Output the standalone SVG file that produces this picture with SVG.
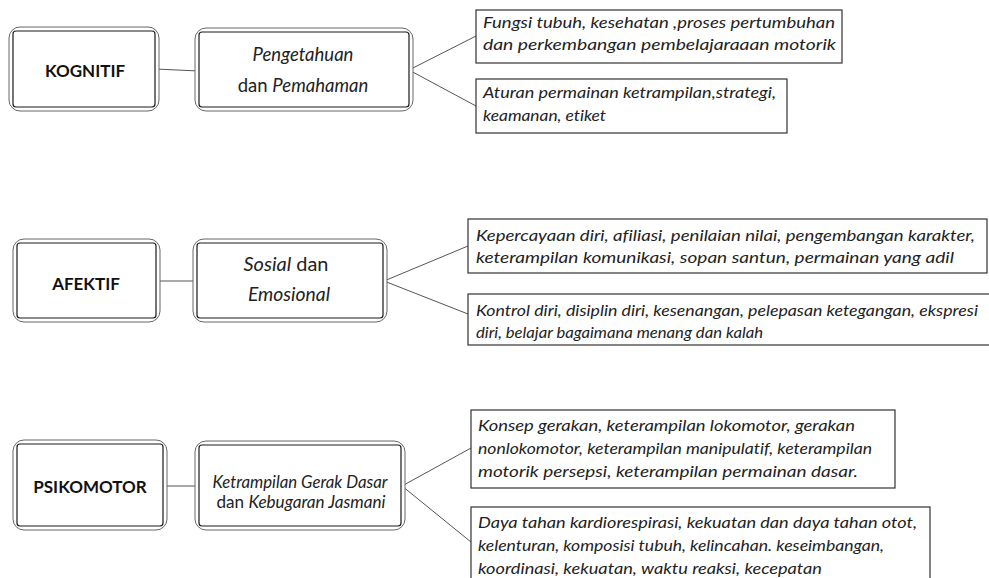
<svg xmlns="http://www.w3.org/2000/svg" width="989" height="578" viewBox="0 0 989 578">
  <style>
    text { font-variant-ligatures: none; }
    .outer { fill: #ffffff; stroke: #666666; stroke-width: 1; }
    .inner { fill: none; stroke: #1a1a1a; stroke-width: 1.2; }
    .leaf { fill: #ffffff; stroke: #333333; stroke-width: 1.2; }
    .link { fill: none; stroke: #555555; stroke-width: 1; }
    .head { font-family: Lato, "Open Sans", "Liberation Sans", sans-serif; font-weight: bold; font-size: 17px; fill: #111111; text-anchor: middle; }
    .mid { font-family: Lato, "Open Sans", "Liberation Sans", sans-serif; font-size: 18.5px; fill: #222222; text-anchor: middle; }
    .mid-s { font-family: Lato, "Open Sans", "Liberation Sans", sans-serif; font-size: 16.5px; fill: #222222; text-anchor: middle; }
    .it { font-style: italic; }
    .desc { font-family: Lato, "Open Sans", "Liberation Sans", sans-serif; font-style: italic; font-size: 15px; fill: #222222; }
  </style>
  <rect width="989" height="578" fill="#ffffff"/>

  <!-- connectors -->
  <g id="connectors">
    <line class="link" x1="155" y1="69" x2="199" y2="71"/>
    <line class="link" x1="409" y1="70" x2="476" y2="36"/>
    <line class="link" x1="409" y1="70" x2="476" y2="106"/>

    <line class="link" x1="156" y1="281" x2="197" y2="281"/>
    <line class="link" x1="384" y1="281" x2="468" y2="246"/>
    <line class="link" x1="384" y1="281" x2="468" y2="314"/>

    <line class="link" x1="163" y1="486" x2="199" y2="486"/>
    <line class="link" x1="402" y1="486" x2="471" y2="448"/>
    <line class="link" x1="402" y1="486" x2="471" y2="542"/>
  </g>

  <!-- cognitive domain -->
  <g id="kognitif">
    <rect class="outer" x="9" y="27" width="150" height="84" rx="11"/>
    <rect class="inner" x="13" y="31" width="142" height="76" rx="3"/>
    <text class="head" x="85" y="77">KOGNITIF</text>
  </g>
  <g id="pengetahuan">
    <rect class="outer" x="195" y="28" width="218" height="83" rx="11"/>
    <rect class="inner" x="199" y="32" width="210" height="75" rx="3"/>
    <text class="mid it" x="303" y="61">Pengetahuan</text>
    <text class="mid" x="303" y="92">dan <tspan class="it">Pemahaman</tspan></text>
  </g>
  <g id="fungsi">
    <rect class="leaf" x="476" y="10" width="366" height="53"/>
    <text class="desc" x="483" y="28" textLength="352" lengthAdjust="spacingAndGlyphs">Fungsi tubuh, kesehatan ,proses pertumbuhan</text>
    <text class="desc" x="483" y="50" textLength="353" lengthAdjust="spacingAndGlyphs">dan perkembangan pembelajaraaan motorik</text>
  </g>
  <g id="aturan">
    <rect class="leaf" x="476" y="79" width="311" height="54"/>
    <text class="desc" x="483" y="98" textLength="293" lengthAdjust="spacingAndGlyphs">Aturan permainan ketrampilan,strategi,</text>
    <text class="desc" x="483" y="121" textLength="123" lengthAdjust="spacingAndGlyphs">keamanan, etiket</text>
  </g>

  <!-- affective domain -->
  <g id="afektif">
    <rect class="outer" x="13" y="239" width="147" height="83" rx="11"/>
    <rect class="inner" x="17" y="243" width="139" height="75" rx="3"/>
    <text class="head" x="86" y="290">AFEKTIF</text>
  </g>
  <g id="sosial">
    <rect class="outer" x="193" y="239" width="194" height="83" rx="11"/>
    <rect class="inner" x="197" y="243" width="186" height="75" rx="3"/>
    <text class="mid" x="286" y="271" textLength="85" lengthAdjust="spacingAndGlyphs"><tspan class="it">Sosial</tspan> dan</text>
    <text class="mid it" x="289" y="301" textLength="82" lengthAdjust="spacingAndGlyphs">Emosional</text>
  </g>
  <g id="kepercayaan">
    <rect class="leaf" x="468" y="219" width="519" height="54"/>
    <text class="desc" x="476" y="241" textLength="499" lengthAdjust="spacingAndGlyphs">Kepercayaan diri, afiliasi, penilaian nilai, pengembangan karakter,</text>
    <text class="desc" x="476" y="263" textLength="478" lengthAdjust="spacingAndGlyphs">keterampilan komunikasi, sopan santun, permainan yang adil</text>
  </g>
  <g id="kontrol">
    <rect class="leaf" x="468" y="294" width="530" height="51"/>
    <text class="desc" x="476" y="316" textLength="502" lengthAdjust="spacingAndGlyphs">Kontrol diri, disiplin diri, kesenangan, pelepasan ketegangan, ekspresi</text>
    <text class="desc" x="476" y="338" textLength="287" lengthAdjust="spacingAndGlyphs">diri, belajar bagaimana menang dan kalah</text>
  </g>

  <!-- psychomotor domain -->
  <g id="psikomotor">
    <rect class="outer" x="13" y="440" width="154" height="90" rx="11"/>
    <rect class="inner" x="17" y="444" width="146" height="82" rx="3"/>
    <text class="head" x="90" y="493">PSIKOMOTOR</text>
  </g>
  <g id="ketrampilan">
    <rect class="outer" x="195" y="441" width="210" height="89" rx="11"/>
    <rect class="inner" x="199" y="445" width="202" height="81" rx="3"/>
    <text class="mid-s it" x="300" y="488" textLength="175" lengthAdjust="spacingAndGlyphs">Ketrampilan Gerak Dasar</text>
    <text class="mid-s" x="301" y="508" textLength="169" lengthAdjust="spacingAndGlyphs">dan <tspan class="it">Kebugaran Jasmani</tspan></text>
  </g>
  <g id="konsep">
    <rect class="leaf" x="471" y="410" width="424" height="78"/>
    <text class="desc" x="478" y="431" textLength="377" lengthAdjust="spacingAndGlyphs">Konsep gerakan, keterampilan lokomotor, gerakan</text>
    <text class="desc" x="478" y="454" textLength="394" lengthAdjust="spacingAndGlyphs">nonlokomotor, keterampilan manipulatif, keterampilan</text>
    <text class="desc" x="478" y="477" textLength="380" lengthAdjust="spacingAndGlyphs">motorik persepsi,  keterampilan permainan dasar.</text>
  </g>
  <g id="daya">
    <rect class="leaf" x="471" y="507" width="459" height="90"/>
    <text class="desc" x="478" y="528" textLength="439" lengthAdjust="spacingAndGlyphs">Daya tahan kardiorespirasi,  kekuatan dan daya tahan otot,</text>
    <text class="desc" x="478" y="551" textLength="406" lengthAdjust="spacingAndGlyphs">kelenturan, komposisi tubuh, kelincahan. keseimbangan,</text>
    <text class="desc" x="478" y="574" textLength="344" lengthAdjust="spacingAndGlyphs">koordinasi, kekuatan, waktu reaksi, kecepatan</text>
  </g>
</svg>
